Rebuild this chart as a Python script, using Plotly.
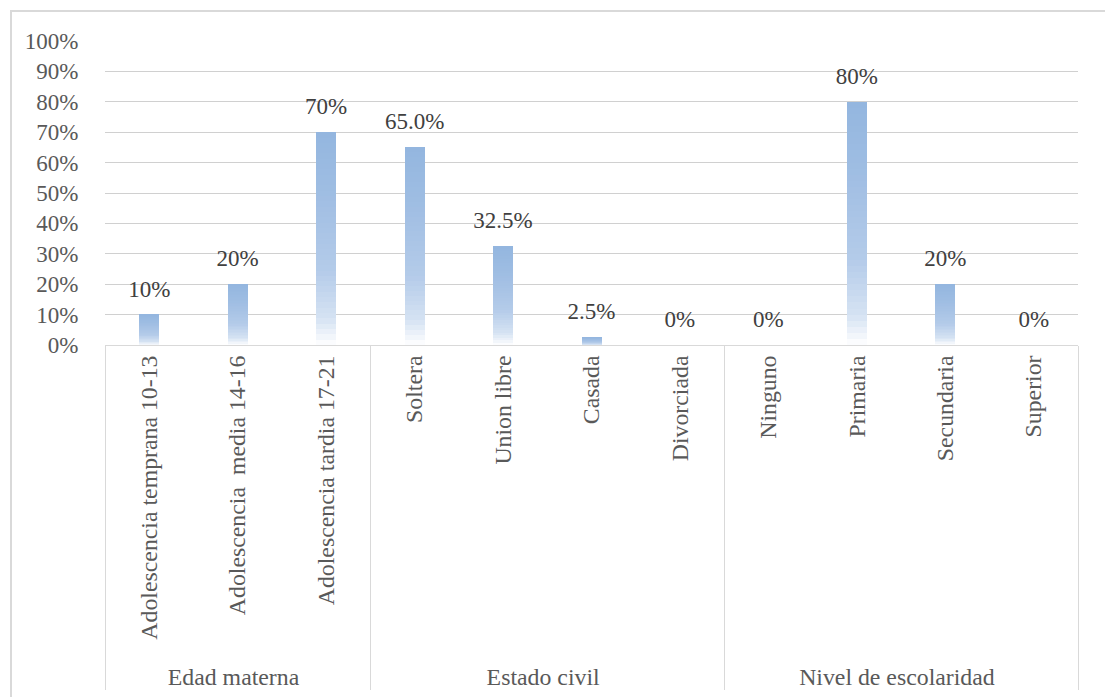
import plotly.graph_objects as go
import numpy as np

groups = ["Edad materna"] * 3 + ["Estado civil"] * 4 + ["Nivel de escolaridad"] * 4
categories = ["Adolescencia temprana 10-13", "Adolescencia  media 14-16", "Adolescencia tardia 17-21",
              "Soltera", "Union libre", "Casada", "Divorciada",
              "Ninguno", "Primaria", "Secundaria", "Superior"]
values = [0.10, 0.20, 0.70, 0.65, 0.325, 0.025, 0.0, 0.0, 0.80, 0.20, 0.0]
labels = ["10%", "20%", "70%", "65.0%", "32.5%", "2.5%", "0%", "0%", "80%", "20%", "0%"]

FONT = "Liberation Serif"
N_SLICES = 40

# gradient stops: fraction from bar bottom -> color
stops = [(0.0, (255, 255, 255)), (0.12, (214, 227, 243)), (0.35, (180, 203, 233)),
         (0.7, (160, 190, 227)), (1.0, (147, 182, 223))]


def grad_color(f):
    for (f0, c0), (f1, c1) in zip(stops[:-1], stops[1:]):
        if f0 <= f <= f1:
            t = (f - f0) / (f1 - f0) if f1 > f0 else 0
            c = [round(a + (b - a) * t) for a, b in zip(c0, c1)]
            return f"rgb({c[0]},{c[1]},{c[2]})"
    return f"rgb{stops[-1][1]}"


fig = go.Figure()
x_mc = [groups, categories]
vals = np.array(values)
for i in range(N_SLICES):
    f = (i + 0.5) / N_SLICES
    fig.add_trace(go.Bar(
        x=x_mc, y=vals / N_SLICES,
        marker=dict(color=grad_color(f), line=dict(width=0)),
        hoverinfo="skip", showlegend=False,
    ))

fig.add_trace(go.Scatter(
    x=x_mc, y=values, mode="markers+text", text=labels,
    textposition="top center",
    marker=dict(size=18, color="rgba(0,0,0,0)"),
    textfont=dict(family=FONT, size=23, color="#404040"),
    showlegend=False, hoverinfo="skip", cliponaxis=False,
))

W, H = 1105, 697
L, R, T, B = 105, 27, 41, 352
pw, ph = W - L - R, H - T - B

fig.update_layout(
    width=W, height=H,
    margin=dict(l=L, r=R, t=T, b=B, pad=0),
    barmode="stack", bargap=0.774,
    plot_bgcolor="white", paper_bgcolor="white",
    font=dict(family=FONT, size=23, color="#595959"),
    xaxis=dict(
        type="multicategory", tickangle=-90, range=[-0.5, 10.5], automargin=False,
        showline=True, linecolor="#d9d9d9", linewidth=1,
        showdividers=True, dividercolor="#d9d9d9", dividerwidth=1,
        ticks="", showgrid=False,
        tickfont=dict(family=FONT, size=23.8, color="#595959"),
    ),
    yaxis=dict(
        range=[0, 1], dtick=0.1, tickformat=".0%", automargin=False,
        showgrid=True, gridcolor="#d0d0d0", gridwidth=1,
        zeroline=False, showline=False,
        ticks="outside", ticklen=21, tickcolor="rgba(0,0,0,0)",
        tickfont=dict(family=FONT, size=23, color="#595959"),
    ),
    shapes=[dict(
        type="rect", xref="paper", yref="paper",
        x0=(11 - L) / pw, x1=(W + 20 - L) / pw,
        y0=(H - B - (H + 20)) / ph, y1=(H - B - 11) / ph,
        line=dict(color="#d9d9d9", width=2), fillcolor="rgba(0,0,0,0)", layer="below",
    )],
)

fig.write_html("out.html")
